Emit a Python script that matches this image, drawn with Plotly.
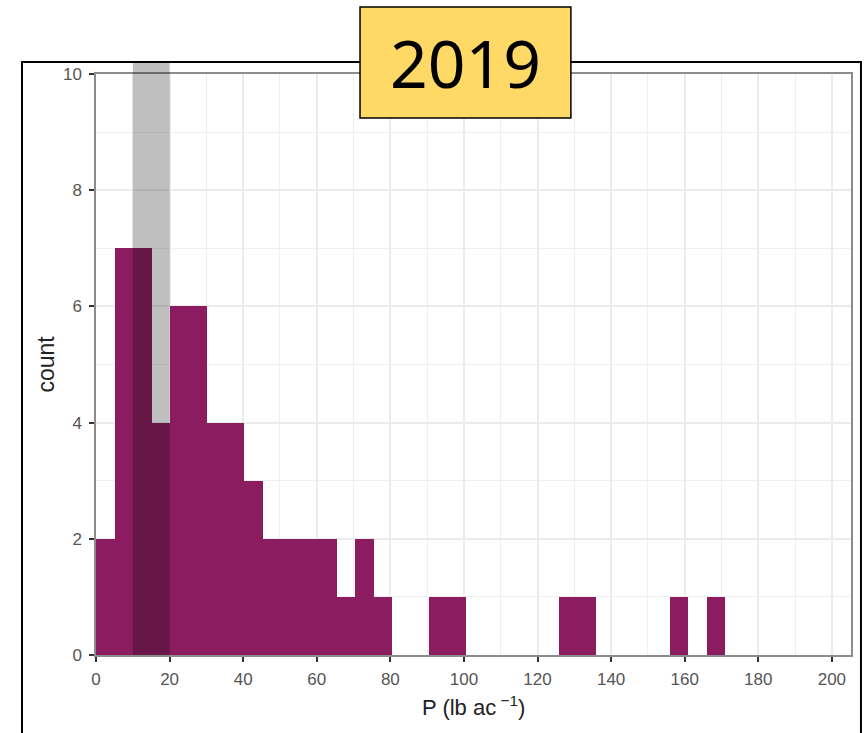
import plotly.graph_objects as go

# Histogram data (bin index -> count)
bin_counts = [2, 7, 7, 4, 6, 6, 4, 4, 3, 2, 2, 2, 2, 1, 2, 1, 0, 0, 1, 1,
              0, 0, 0, 0, 0, 1, 1, 0, 0, 0, 0, 1, 0, 1]
bin_width = 5.03
highlight_range = [10, 20]
x_ticks = [0, 20, 40, 60, 80, 100, 120, 140, 160, 180, 200]
y_ticks = [0, 2, 4, 6, 8, 10]
title_text = "2019"

bin_centers = [bin_width * (i + 0.5) for i in range(len(bin_counts))]

fig = go.Figure()
fig.add_trace(go.Bar(
    x=bin_centers, y=bin_counts, width=bin_width,
    marker=dict(color="#8B1C5F", line=dict(width=0)),
    hoverinfo="x+y",
))

tickfont = dict(family="Liberation Sans, Arial, sans-serif", size=17, color="#555555")

fig.update_layout(
    width=864, height=733,
    margin=dict(l=96, r=13, t=74, b=78),
    paper_bgcolor="white", plot_bgcolor="white",
    bargap=0, showlegend=False,
    xaxis=dict(
        range=[0, 205.2], tickvals=x_ticks, ticks="outside", ticklen=5,
        tickwidth=1.5, tickcolor="#333333", tickfont=tickfont,
        showgrid=True, gridcolor="#EBEBEB", gridwidth=1.5,
        minor=dict(dtick=10, tick0=0, showgrid=True, gridcolor="#EFEFEF", gridwidth=1),
        showline=True, mirror=True, linecolor="#8C8C8C", linewidth=1.5,
        zeroline=False, ticklabelstandoff=3,
    ),
    yaxis=dict(
        range=[0, 10], tickvals=y_ticks, ticks="outside", ticklen=5,
        tickwidth=1.5, tickcolor="#333333", tickfont=tickfont,
        showgrid=True, gridcolor="#EBEBEB", gridwidth=1.5,
        minor=dict(dtick=1, tick0=0, showgrid=True, gridcolor="#EFEFEF", gridwidth=1),
        showline=True, mirror=True, linecolor="#8C8C8C", linewidth=1.5,
        zeroline=False, ticklabelstandoff=4,
    ),
)

# Highlight band (drawn above bars, semi-transparent black)
fig.add_shape(type="rect", xref="x", yref="paper",
              x0=highlight_range[0], x1=highlight_range[1], y0=0, y1=1.019,
              fillcolor="black", opacity=0.25, line=dict(width=0), layer="above")

# Outer black frame
fig.add_shape(type="rect", xref="paper", yref="paper",
              x0=-0.098, x1=1.0132, y0=-0.2, y1=1.0207,
              line=dict(color="black", width=2), fillcolor="rgba(0,0,0,0)", layer="above")

# Yellow title box
fig.add_shape(type="rect", xref="paper", yref="paper",
              x0=0.3497, x1=0.629, y0=0.9243, y1=1.1153,
              line=dict(color="black", width=1.5), fillcolor="#FFD966", layer="above")
fig.add_annotation(text=title_text, xref="paper", yref="paper",
                   x=(0.3497 + 0.629) / 2, y=1.0198, xanchor="center", yanchor="middle",
                   showarrow=False,
                   font=dict(family="Noto Sans, Open Sans, sans-serif", size=66, color="black"))

# Axis titles
fig.add_annotation(text="P (lb ac<sup> −1</sup>)", xref="paper", yref="paper",
                   x=0.5, y=-0.0878, xanchor="center", yanchor="middle", showarrow=False,
                   font=dict(family="Liberation Sans, Arial, sans-serif", size=22, color="#222222"))
fig.add_annotation(text="count", xref="paper", yref="paper",
                   x=-0.0675, y=0.5, xanchor="center", yanchor="middle", textangle=-90,
                   showarrow=False,
                   font=dict(family="Liberation Sans, Arial, sans-serif", size=23, color="#222222"))

fig.write_html("out.html",
               config={"displayModeBar": False},
               post_script="document.body.style.margin='0';document.body.style.overflow='hidden';")
